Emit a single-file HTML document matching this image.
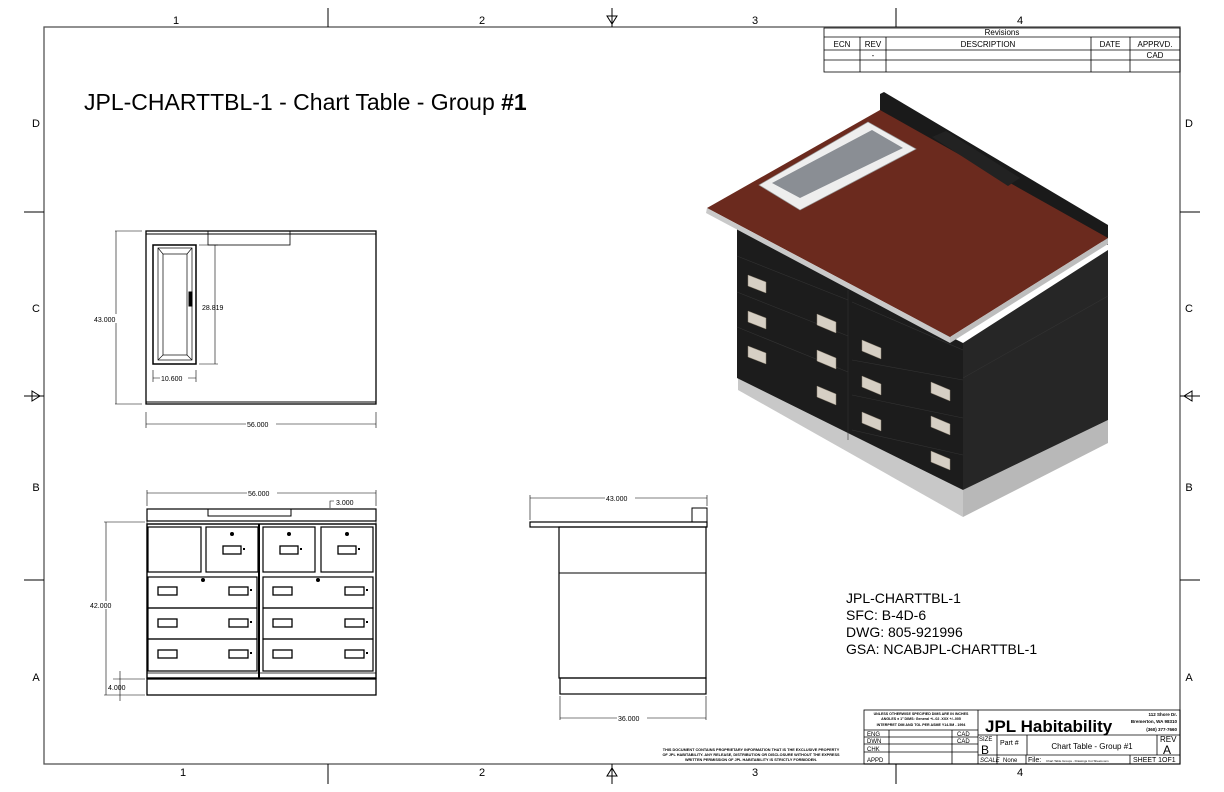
<!DOCTYPE html>
<html><head><meta charset="utf-8"><style>
html,body{margin:0;padding:0;background:#fff}
svg{display:block;font-family:"Liberation Sans",Arial,sans-serif}
</style></head><body>
<svg width="1224" height="792" viewBox="0 0 1224 792" xmlns="http://www.w3.org/2000/svg">
<rect width="1224" height="792" fill="#fff"/>
<rect x="44" y="27" width="1136" height="737" fill="none" stroke="#555" stroke-width="1.3"/>
<g stroke="#000" stroke-width="1">
<line x1="328" y1="8" x2="328" y2="27"/><line x1="896" y1="8" x2="896" y2="27"/>
<line x1="328" y1="764" x2="328" y2="784"/><line x1="896" y1="764" x2="896" y2="784"/>
<line x1="24" y1="212" x2="44" y2="212"/><line x1="24" y1="580" x2="44" y2="580"/>
<line x1="1180" y1="212" x2="1200" y2="212"/><line x1="1180" y1="580" x2="1200" y2="580"/>
<line x1="612" y1="8" x2="612" y2="27"/><line x1="612" y1="764" x2="612" y2="784"/>
<line x1="24" y1="396" x2="44" y2="396"/><line x1="1180" y1="396" x2="1200" y2="396"/>
</g>
<g fill="none" stroke="#000">
<path d="M607 16 L617 16 L612 24 Z"/><path d="M607 776 L617 776 L612 768 Z"/>
<path d="M32 391 L32 401 L40 396 Z"/><path d="M1192 391 L1192 401 L1184 396 Z"/>
</g>
<g font-size="11" fill="#000" text-anchor="middle">
<text x="176" y="24">1</text><text x="482" y="24">2</text><text x="755" y="24">3</text><text x="1020" y="24">4</text>
<text x="183" y="776">1</text><text x="482" y="776">2</text><text x="755" y="776">3</text><text x="1020" y="776">4</text>
<text x="36" y="127">D</text><text x="36" y="312">C</text><text x="36" y="491">B</text><text x="36" y="681">A</text>
<text x="1189" y="127">D</text><text x="1189" y="312">C</text><text x="1189" y="491">B</text><text x="1189" y="681">A</text>
</g>
<g stroke="#000" stroke-width="0.8" fill="none">
<rect x="824" y="28" width="356" height="44"/>
<line x1="824" y1="37" x2="1180" y2="37"/><line x1="824" y1="50" x2="1180" y2="50"/><line x1="824" y1="60" x2="1180" y2="60"/>
<line x1="860" y1="37" x2="860" y2="72"/><line x1="886" y1="37" x2="886" y2="72"/><line x1="1091" y1="37" x2="1091" y2="72"/><line x1="1130" y1="37" x2="1130" y2="72"/>
</g>
<g font-size="8" text-anchor="middle" fill="#000">
<text x="1002" y="35">Revisions</text>
<text x="842" y="47">ECN</text><text x="873" y="47">REV</text><text x="988" y="47">DESCRIPTION</text><text x="1110" y="47">DATE</text><text x="1155" y="47">APPRVD.</text>
<text x="873" y="58">-</text><text x="1155" y="58">CAD</text>
</g>
<text x="84" y="110" font-size="23" fill="#000">JPL-CHARTTBL-1 - Chart Table - Group <tspan font-weight="bold">#1</tspan></text>
<g stroke="#000" fill="none">
<rect x="146" y="231" width="230" height="173" stroke-width="1.3"/>
<line x1="146" y1="234" x2="376" y2="234"/><line x1="146" y1="402" x2="376" y2="402"/>
<rect x="208" y="231" width="82" height="14" stroke-width="0.8"/>
<rect x="153" y="245" width="43" height="119" stroke-width="1.5"/>
<rect x="158" y="248" width="34" height="112" stroke-width="0.7"/>
<rect x="163" y="254" width="24" height="101" stroke-width="0.7"/>
<path d="M158 248L163 254M192 248L187 254M158 360L163 355M192 360L187 355" stroke-width="0.6"/>
<rect x="189" y="292" width="3" height="14" fill="#000"/>
<line x1="115" y1="231" x2="142" y2="231" stroke-width="0.6"/><line x1="115" y1="404" x2="142" y2="404" stroke-width="0.6"/>
<line x1="116" y1="231" x2="116" y2="404" stroke-width="0.6"/>
<line x1="199" y1="245" x2="218" y2="245" stroke-width="0.6"/><line x1="199" y1="364" x2="218" y2="364" stroke-width="0.6"/>
<line x1="215" y1="245" x2="215" y2="364" stroke-width="0.6"/>
<line x1="153" y1="370" x2="153" y2="382" stroke-width="0.6"/><line x1="196" y1="370" x2="196" y2="382" stroke-width="0.6"/>
<line x1="153" y1="378" x2="196" y2="378" stroke-width="0.6"/>
<line x1="146" y1="412" x2="146" y2="428" stroke-width="0.6"/><line x1="376" y1="412" x2="376" y2="428" stroke-width="0.6"/>
<line x1="146" y1="424" x2="376" y2="424" stroke-width="0.6"/>
</g>
<g font-size="7" fill="#000">
<rect x="93" y="314" width="36" height="9" fill="#fff"/><text x="94" y="322">43.000</text>
<text x="202" y="310">28.819</text>
<rect x="160" y="374" width="28" height="8" fill="#fff"/><text x="161" y="381">10.600</text>
<rect x="246" y="420" width="30" height="8" fill="#fff"/><text x="247" y="427">56.000</text>
</g>
<g stroke="#000" fill="none">
<rect x="147" y="509" width="229" height="12" stroke-width="1.2"/>
<rect x="208" y="509" width="83" height="7" stroke-width="1"/>
<rect x="147" y="521" width="229" height="3" stroke-width="0.6"/>
<rect x="147" y="524" width="229" height="154" stroke-width="1.4"/>
<rect x="148" y="527" width="53" height="45" stroke-width="1.2"/>
<rect x="206" y="527" width="52" height="45" stroke-width="1.2"/>
<rect x="263" y="527" width="52" height="45" stroke-width="1.2"/>
<rect x="321" y="527" width="52" height="45" stroke-width="1.2"/>
<rect x="148" y="577" width="109" height="31" stroke-width="1.2"/>
<rect x="263" y="577" width="110" height="31" stroke-width="1.2"/>
<rect x="148" y="608" width="109" height="31" stroke-width="1.2"/>
<rect x="263" y="608" width="110" height="31" stroke-width="1.2"/>
<rect x="148" y="639" width="109" height="32" stroke-width="1.2"/>
<rect x="263" y="639" width="110" height="32" stroke-width="1.2"/>
<line x1="259" y1="524" x2="259" y2="678" stroke-width="2"/>
<line x1="147" y1="673" x2="376" y2="673" stroke-width="0.8"/>
<rect x="147" y="679" width="229" height="16" stroke-width="1.3"/>
<line x1="104" y1="522" x2="145" y2="522" stroke-width="0.6"/>
<line x1="104" y1="695" x2="145" y2="695" stroke-width="0.6"/>
<line x1="106" y1="522" x2="106" y2="695" stroke-width="0.6"/>
<line x1="113" y1="679" x2="145" y2="679" stroke-width="0.6"/>
<line x1="120" y1="671" x2="120" y2="701" stroke-width="0.6"/>
<line x1="147" y1="490" x2="147" y2="506" stroke-width="0.6"/><line x1="376" y1="490" x2="376" y2="506" stroke-width="0.6"/>
<line x1="147" y1="493" x2="376" y2="493" stroke-width="0.6"/>
<path d="M330 508 L330 501 L334 501" stroke-width="0.6"/>
</g>
<g fill="none" stroke="#000" stroke-width="1.3">
<rect x="223" y="546" width="18" height="8"/><rect x="280" y="546" width="18" height="8"/><rect x="338" y="546" width="18" height="8"/>
<rect x="158" y="587" width="19" height="8"/><rect x="229" y="587" width="19" height="8"/><rect x="273" y="587" width="19" height="8"/><rect x="345" y="587" width="19" height="8"/>
<rect x="158" y="619" width="19" height="8"/><rect x="229" y="619" width="19" height="8"/><rect x="273" y="619" width="19" height="8"/><rect x="345" y="619" width="19" height="8"/>
<rect x="158" y="650" width="19" height="8"/><rect x="229" y="650" width="19" height="8"/><rect x="273" y="650" width="19" height="8"/><rect x="345" y="650" width="19" height="8"/>
</g>
<g fill="#000">
<circle cx="232" cy="534" r="2"/><circle cx="289" cy="534" r="2"/><circle cx="347" cy="534" r="2"/>
<circle cx="203" cy="580" r="2"/><circle cx="318" cy="580" r="2"/>
<rect x="243" y="548" width="2" height="2"/><rect x="300" y="548" width="2" height="2"/><rect x="358" y="548" width="2" height="2"/>
<rect x="250" y="589" width="2" height="2"/><rect x="366" y="589" width="2" height="2"/>
<rect x="250" y="621" width="2" height="2"/><rect x="366" y="621" width="2" height="2"/>
<rect x="250" y="652" width="2" height="2"/><rect x="366" y="652" width="2" height="2"/>
</g>
<g font-size="7" fill="#000">
<rect x="247" y="489" width="30" height="8" fill="#fff"/><text x="248" y="496">56.000</text>
<text x="336" y="505">3.000</text>
<rect x="90" y="601" width="32" height="8" fill="#fff"/><text x="90" y="608">42.000</text>
<text x="108" y="690">4.000</text>
</g>
<g stroke="#000" fill="none">
<rect x="530" y="522" width="177" height="5" stroke-width="1.2"/>
<rect x="692" y="508" width="15" height="14" stroke-width="1"/>
<rect x="559" y="527" width="147" height="151" stroke-width="1.2"/>
<line x1="559" y1="573" x2="706" y2="573" stroke-width="1"/>
<rect x="560" y="678" width="146" height="16" stroke-width="1.2"/>
<line x1="530" y1="495" x2="530" y2="520" stroke-width="0.6"/><line x1="707" y1="495" x2="707" y2="506" stroke-width="0.6"/>
<line x1="530" y1="498" x2="707" y2="498" stroke-width="0.6"/>
<line x1="560" y1="696" x2="560" y2="720" stroke-width="0.6"/><line x1="706" y1="696" x2="706" y2="720" stroke-width="0.6"/>
<line x1="560" y1="718" x2="706" y2="718" stroke-width="0.6"/>
</g>
<g font-size="7" fill="#000">
<rect x="605" y="494" width="30" height="8" fill="#fff"/><text x="606" y="501">43.000</text>
<rect x="617" y="714" width="30" height="8" fill="#fff"/><text x="618" y="721">36.000</text>
</g>
<g>
<polygon points="738,373 963,490 963,517 738,390" fill="#c8c8c8"/>
<polygon points="963,490 1108,420 1108,443 963,517" fill="#b8b8b8"/>
<polygon points="737,228 963,343 963,490 737,378" fill="#1c1c1c"/>
<polygon points="963,343 1108,250 1108,420 963,490" fill="#262626"/>
<polygon points="880,94 884,92 1108,225 1108,245 880,114" fill="#1a1a1a"/>
<polygon points="707,208 880,110 1108,238 950,337" fill="#6b2a1e"/>
<polygon points="707,208 950,337 950,343 706,213" fill="#c9c9c9"/>
<polygon points="950,337 1108,238 1108,244 950,343" fill="#bdbdbd"/>
<polygon points="759,185 868,122 916,149 800,210" fill="#eeeeee" stroke="#999" stroke-width="0.7"/>
<polygon points="772,183 872,130 903,148 800,198" fill="#8a8e94"/>
<polygon points="932,137 946,131 1020,178 1008,186" fill="#222"/>
<g stroke="#333" stroke-width="0.6" fill="none">
<line x1="737" y1="256" x2="848" y2="300"/><line x1="737" y1="292" x2="848" y2="336"/><line x1="737" y1="327" x2="848" y2="372"/>
<line x1="848" y1="290" x2="848" y2="440"/>
<line x1="852" y1="302" x2="963" y2="350"/><line x1="852" y1="360" x2="963" y2="380"/><line x1="852" y1="395" x2="963" y2="418"/><line x1="852" y1="430" x2="963" y2="455"/>
<line x1="963" y1="378" x2="1108" y2="296"/>
</g>
<g fill="#d6cfc4" stroke="#8a8070" stroke-width="0.5">
<polygon points="748,275 766,282 766,293 748,286"/>
<polygon points="748,311 766,318 766,329 748,322"/>
<polygon points="748,346 766,353 766,364 748,357"/>
<polygon points="817,314 836,322 836,333 817,325"/>
<polygon points="817,350 836,358 836,369 817,361"/>
<polygon points="817,386 836,394 836,405 817,397"/>
<polygon points="862,340 881,348 881,359 862,351"/>
<polygon points="862,376 881,384 881,395 862,387"/>
<polygon points="862,412 881,420 881,431 862,423"/>
<polygon points="931,382 950,390 950,401 931,393"/>
<polygon points="931,416 950,424 950,435 931,427"/>
<polygon points="931,451 950,459 950,470 931,462"/>
</g>
</g>
<g font-size="14" fill="#000">
<text x="846" y="603">JPL-CHARTTBL-1</text>
<text x="846" y="620">SFC:  B-4D-6</text>
<text x="846" y="637">DWG:  805-921996</text>
<text x="846" y="654">GSA:  NCABJPL-CHARTTBL-1</text>
</g>
<g stroke="#000" stroke-width="0.8" fill="none">
<rect x="864" y="710" width="316" height="54"/>
<line x1="978" y1="710" x2="978" y2="764"/>
<line x1="864" y1="730" x2="978" y2="730"/><line x1="864" y1="737" x2="978" y2="737"/><line x1="864" y1="744" x2="978" y2="744"/><line x1="864" y1="752" x2="978" y2="752"/>
<line x1="889" y1="730" x2="889" y2="764"/><line x1="952" y1="730" x2="952" y2="764"/>
<line x1="978" y1="735" x2="1180" y2="735"/><line x1="978" y1="755" x2="1180" y2="755"/>
<line x1="997" y1="735" x2="997" y2="764"/><line x1="1027" y1="735" x2="1027" y2="755"/><line x1="1157" y1="735" x2="1157" y2="755"/>
<line x1="1026" y1="755" x2="1026" y2="764"/><line x1="1130" y1="755" x2="1130" y2="764"/>
</g>
<g fill="#000">
<text x="921" y="715" font-size="3.6" text-anchor="middle" font-weight="bold">UNLESS OTHERWISE SPECIFIED DIMS ARE IN INCHES</text>
<text x="921" y="720" font-size="3.6" text-anchor="middle" font-weight="bold">ANGLES ± 1°   DIMS: General +/-.02  .XXX +/-.005</text>
<text x="921" y="726" font-size="3.6" text-anchor="middle" font-weight="bold">INTERPRET DIM AND TOL PER ASME Y14.5M - 1994</text>
<g font-size="6"><text x="867" y="736">ENG</text><text x="867" y="743">DWN</text><text x="867" y="751">CHK</text><text x="867" y="762">APPD</text>
<text x="957" y="736">CAD</text><text x="957" y="743">CAD</text></g>
<text x="985" y="732" font-size="17" font-weight="bold">JPL Habitability</text>
<text x="1177" y="716" font-size="4.5" text-anchor="end" font-weight="bold">112  Shore Dr.</text>
<text x="1177" y="723" font-size="4.5" text-anchor="end" font-weight="bold">Bremerton, WA 98310</text>
<text x="1177" y="731" font-size="4.5" text-anchor="end" font-weight="bold">(360) 377-7660</text>
<text x="979" y="741" font-size="6">SIZE</text><text x="981" y="754" font-size="12">B</text>
<text x="1000" y="745" font-size="7">Part #</text>
<text x="1092" y="749" font-size="8" text-anchor="middle">Chart Table - Group #1</text>
<text x="1160" y="742" font-size="8">REV</text><text x="1163" y="754" font-size="12">A</text>
<text x="980" y="762" font-size="6" font-style="italic">SCALE</text><text x="1003" y="762" font-size="6">None</text>
<text x="1028" y="762" font-size="7">File:</text>
<text x="1046" y="762" font-size="3">Chart Table Groups - Drawings Cut Sheets.iam</text>
<text x="1133" y="762" font-size="7">SHEET 1OF1</text>
<g font-size="3.8" text-anchor="middle" font-weight="bold">
<text x="751" y="751">THIS DOCUMENT CONTAINS PROPRIETARY INFORMATION THAT IS THE EXCLUSIVE PROPERTY</text>
<text x="751" y="756">OF JPL HABITABILITY.  ANY RELEASE, DISTRIBUTION OR DISCLOSURE WITHOUT THE EXPRESS</text>
<text x="751" y="761">WRITTEN PERMISSION OF JPL HABITABILITY IS STRICTLY FORBIDDEN.</text>
</g>
</g>
</svg>
</body></html>
